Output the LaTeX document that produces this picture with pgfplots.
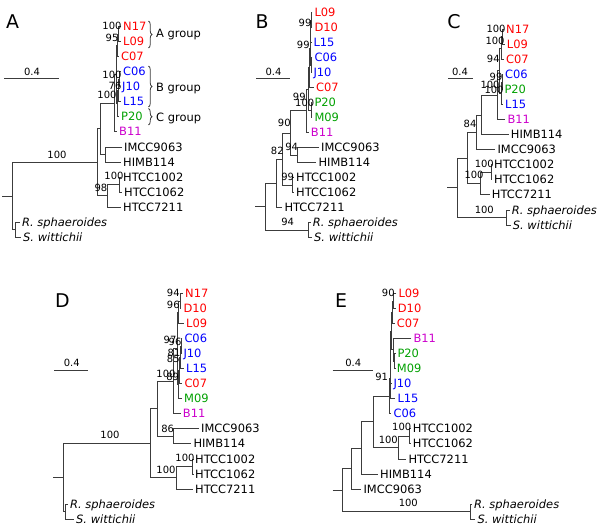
\documentclass[border=0pt]{standalone}
\usepackage{fontspec}
\setmainfont{DejaVu Sans}[ItalicFont={DejaVu Sans Oblique}]
\usepackage{pgfplots}
\pgfplotsset{compat=1.18}
\usetikzlibrary{decorations.pathreplacing}
\definecolor{tred}{RGB}{255,0,0}
\definecolor{tblue}{RGB}{0,0,255}
\definecolor{tgreen}{RGB}{0,160,0}
\definecolor{tmag}{RGB}{204,0,204}
\definecolor{tline}{RGB}{60,60,60}
\newcommand{\tipfont}{\fontsize{11.5}{13}\selectfont}
\newcommand{\supfont}{\fontsize{10}{12}\selectfont}
\newcommand{\letfont}{\fontsize{19}{22}\selectfont}
\newcommand{\tip}[4][black]{\node[anchor=west,inner sep=0pt,text=#1,font=\tipfont,text height=8.4pt,text depth=0pt] at (axis cs:#2,#3) {#4};}
\newcommand{\bs}[3]{\node[inner sep=0pt,font=\supfont,text height=7.3pt,text depth=0pt] at (axis cs:#1,#2) {#3};}
\newcommand{\plet}[3]{\node[inner sep=0pt,font=\letfont,text height=13.9pt,text depth=0pt] at (axis cs:#1,#2) {#3};}
\pgfplotsset{tree/.style={color=tline, line width=0.8bp, mark=none, forget plot}}
\begin{document}
\begin{tikzpicture}
\begin{axis}[scale only axis, width=600bp, height=529bp, xmin=0, xmax=600, ymin=0, ymax=529, y dir=reverse, hide axis, clip=false, unbounded coords=jump]
\addplot[draw=none, forget plot] coordinates {(0,0) (600,529)};
% ---------------- Panel A ----------------
\addplot[tree] coordinates {
(121,26.5) (118.5,26.5) (118.5,41.5) (121,41.5) (nan,nan)
(118.5,34) (117.5,34) (117.5,56.6) (119,56.6) (nan,nan)
(121,71.6) (119,71.6) (119,86.7) (120,86.7) (nan,nan)
(119,79.2) (118,79.2) (118,101.7) (121,101.7) (nan,nan)
(118,90.4) (117,90.4) (117,116.8) (119,116.8) (nan,nan)
(117.5,45.3) (116,45.3) (116,103.6) (117,103.6) (nan,nan)
(116,74.5) (114.5,74.5) (114.5,131.8) (117,131.8) (nan,nan)
(122,146.9) (105,146.9) (105,162) (121,162) (nan,nan)
(114.5,103.1) (100,103.1) (100,154.5) (105,154.5) (nan,nan)
(121,177) (119,177) (119,192) (122,192) (nan,nan)
(119,184.5) (107,184.5) (107,207.1) (121,207.1) (nan,nan)
(100,128.8) (97,128.8) (97,195.8) (107,195.8) (nan,nan)
(20,222.1) (15,222.1) (15,237.2) (21,237.2) (nan,nan)
(97,162.3) (12,162.3) (12,229.7) (15,229.7) (nan,nan)
(2,196) (12,196) (nan,nan)
(4,78) (59,78)
};
\plet{12.5}{21.5}{A}
\bs{32}{71.5}{0.4}
\tip[tred]{123}{26.5}{N17}
\tip[tred]{123}{41.5}{L09}
\tip[tred]{121}{56.6}{C07}
\tip[tblue]{123}{71.6}{C06}
\tip[tblue]{122}{86.7}{J10}
\tip[tblue]{123}{101.7}{L15}
\tip[tgreen]{121}{116.8}{P20}
\tip[tmag]{119}{131.8}{B11}
\tip{124}{146.9}{IMCC9063}
\tip{123}{162}{HIMB114}
\tip{123}{177}{HTCC1002}
\tip{124}{192}{HTCC1062}
\tip{123}{207.1}{HTCC7211}
\tip{22}{222.1}{\itshape R. sphaeroides}
\tip{23}{237.2}{\itshape S. wittichii}
\bs{112}{26}{100}
\bs{112}{38}{95}
\bs{112}{75}{100}
\bs{115}{86}{76}
\bs{107}{95}{100}
\bs{57}{155}{100}
\bs{114}{176}{100}
\bs{101}{188}{98}
\draw[tline, line width=0.8bp, decorate, decoration={brace, amplitude=3.5bp}] (axis cs:148.5,21) -- (axis cs:148.5,48);
\draw[tline, line width=0.8bp, decorate, decoration={brace, amplitude=3.5bp}] (axis cs:148.5,66) -- (axis cs:148.5,107);
\draw[tline, line width=0.8bp, decorate, decoration={brace, amplitude=3.5bp}] (axis cs:148.5,108.5) -- (axis cs:148.5,125);
\tip{156}{33.5}{A group}
\tip{156}{87}{B group}
\tip{156}{117}{C group}
% ---------------- Panel B ----------------
\addplot[tree] coordinates {
(312.3,12.5) (311,12.5) (311,27.5) (312.3,27.5) (nan,nan)
(311,20) (310.5,20) (310.5,42.5) (311.3,42.5) (nan,nan)
(312.3,57.5) (311,57.5) (311,72.5) (311.3,72.5) (nan,nan)
(310.5,31.25) (310,31.25) (310,65) (311,65) (nan,nan)
(310,48.1) (309.5,48.1) (309.5,87.5) (314,87.5) (nan,nan)
(312.3,102.5) (311,102.5) (311,117.5) (312.3,117.5) (nan,nan)
(309.5,67.8) (308.5,67.8) (308.5,110) (311,110) (nan,nan)
(308.5,88.9) (306,88.9) (306,132.5) (308.7,132.5) (nan,nan)
(319,147.5) (297.3,147.5) (297.3,162.5) (316.3,162.5) (nan,nan)
(306,110.7) (290,110.7) (290,155) (297.3,155) (nan,nan)
(294,177.5) (292.7,177.5) (292.7,192.5) (294,192.5) (nan,nan)
(290,132.9) (282,132.9) (282,185) (292.7,185) (nan,nan)
(282,159) (276,159) (276,207.5) (282.3,207.5) (nan,nan)
(310.7,222.5) (308.3,222.5) (308.3,237.5) (312,237.5) (nan,nan)
(276,183.2) (265,183.2) (265,230) (308.3,230) (nan,nan)
(255,206.6) (265,206.6) (nan,nan)
(256,78) (290,78)
};
\plet{262}{21.5}{B}
\bs{273.5}{71.5}{0.4}
\tip[tred]{314.3}{12.5}{L09}
\tip[tred]{314.3}{27.5}{D10}
\tip[tblue]{313.3}{42.5}{L15}
\tip[tblue]{314.3}{57.5}{C06}
\tip[tblue]{313.3}{72.5}{J10}
\tip[tred]{316}{87.5}{C07}
\tip[tgreen]{314.3}{102.5}{P20}
\tip[tgreen]{314.3}{117.5}{M09}
\tip[tmag]{310.7}{132.5}{B11}
\tip{321}{147.5}{IMCC9063}
\tip{318.3}{162.5}{HIMB114}
\tip{296}{177.5}{HTCC1002}
\tip{296}{192.5}{HTCC1062}
\tip{284.3}{207.5}{HTCC7211}
\tip{312.7}{222.5}{\itshape R. sphaeroides}
\tip{314}{237.5}{\itshape S. wittichii}
\bs{305}{23.3}{99}
\bs{303.3}{45}{99}
\bs{299.3}{97.3}{99}
\bs{304.7}{103.3}{100}
\bs{284.3}{123.3}{90}
\bs{291.7}{146.7}{94}
\bs{277.3}{150.7}{82}
\bs{287.7}{177.3}{99}
\bs{287.7}{222.3}{94}
% ---------------- Panel C ----------------
\addplot[tree] coordinates {
(504,29.3) (502,29.3) (502,44.3) (504.7,44.3) (nan,nan)
(502,36.8) (501,36.8) (501,59.4) (504,59.4) (nan,nan)
(503,74.4) (502,74.4) (502,89.5) (502.3,89.5) (nan,nan)
(502,82) (501,82) (501,104.5) (503,104.5) (nan,nan)
(501,48.1) (499.5,48.1) (499.5,93.2) (501,93.2) (nan,nan)
(499.5,70.7) (497,70.7) (497,119.6) (505.3,119.6) (nan,nan)
(497,95.1) (481,95.1) (481,134.6) (508.7,134.6) (nan,nan)
(481,114.9) (476,114.9) (476,149.7) (495.3,149.7) (nan,nan)
(492,164.7) (491,164.7) (491,179.8) (492,179.8) (nan,nan)
(491,172.2) (480.7,172.2) (480.7,194.8) (489.7,194.8) (nan,nan)
(476,132.3) (467.3,132.3) (467.3,183.5) (480.7,183.5) (nan,nan)
(509.7,209.9) (506,209.9) (506,224.9) (510.7,224.9) (nan,nan)
(467.3,157.9) (457.7,157.9) (457.7,217.4) (506,217.4) (nan,nan)
(447,187.6) (457.7,187.6) (nan,nan)
(448.3,78.3) (473.3,78.3)
};
\plet{454}{21.5}{C}
\bs{460}{71.5}{0.4}
\tip[tred]{506}{29.3}{N17}
\tip[tred]{506.7}{44.3}{L09}
\tip[tred]{506}{59.4}{C07}
\tip[tblue]{505}{74.4}{C06}
\tip[tgreen]{504.3}{89.5}{P20}
\tip[tblue]{505}{104.5}{L15}
\tip[tmag]{507.3}{119.6}{B11}
\tip{510.7}{134.6}{HIMB114}
\tip{497.3}{149.7}{IMCC9063}
\tip{494}{164.7}{HTCC1002}
\tip{494}{179.8}{HTCC1062}
\tip{491.7}{194.8}{HTCC7211}
\tip{511.7}{209.9}{\itshape R. sphaeroides}
\tip{512.7}{224.9}{\itshape S. wittichii}
\bs{496}{29.3}{100}
\bs{495}{40.7}{100}
\bs{493.3}{59.3}{94}
\bs{496}{76.7}{99}
\bs{490}{85}{100}
\bs{494}{90}{100}
\bs{470}{124}{84}
\bs{484.3}{164.3}{100}
\bs{474}{175}{100}
\bs{484.3}{210}{100}
% ---------------- Panel D ----------------
\addplot[tree] coordinates {
(183,293.3) (180,293.3) (180,308.4) (181.3,308.4) (nan,nan)
(180,300.9) (178.5,300.9) (178.5,323.4) (184,323.4) (nan,nan)
(182.3,338.5) (181,338.5) (181,353.5) (181.3,353.5) (nan,nan)
(181,346) (180.5,346) (180.5,368.6) (184,368.6) (nan,nan)
(180.5,357.3) (179.5,357.3) (179.5,383.6) (182.3,383.6) (nan,nan)
(179.5,370.5) (178.5,370.5) (178.5,398.7) (182,398.7) (nan,nan)
(178.5,312.1) (177,312.1) (177,384.6) (178.5,384.6) (nan,nan)
(177,348.3) (173.3,348.3) (173.3,413.7) (180.7,413.7) (nan,nan)
(199,428.8) (173.3,428.8) (173.3,443.8) (191.3,443.8) (nan,nan)
(173.3,381) (157.3,381) (157.3,436.3) (173.3,436.3) (nan,nan)
(193,458.9) (192.7,458.9) (192.7,473.9) (193,473.9) (nan,nan)
(192.7,466.4) (176.7,466.4) (176.7,489) (193,489) (nan,nan)
(157.3,408.7) (150.7,408.7) (150.7,477.7) (176.7,477.7) (nan,nan)
(68,504) (65.7,504) (65.7,519.1) (74,519.1) (nan,nan)
(150.7,443.2) (63.3,443.2) (63.3,511.6) (65.7,511.6) (nan,nan)
(53.3,477.4) (63.3,477.4) (nan,nan)
(54.3,370) (88.3,370)
};
\plet{62.5}{301}{D}
\bs{71.7}{363.3}{0.4}
\tip[tred]{185}{293.3}{N17}
\tip[tred]{183.3}{308.4}{D10}
\tip[tred]{186}{323.4}{L09}
\tip[tblue]{184.3}{338.5}{C06}
\tip[tblue]{183.3}{353.5}{J10}
\tip[tblue]{186}{368.6}{L15}
\tip[tred]{184.3}{383.6}{C07}
\tip[tgreen]{184}{398.7}{M09}
\tip[tmag]{182.7}{413.7}{B11}
\tip{201}{428.8}{IMCC9063}
\tip{193.3}{443.8}{HIMB114}
\tip{195}{458.9}{HTCC1002}
\tip{195}{473.9}{HTCC1062}
\tip{195}{489}{HTCC7211}
\tip{70}{504}{\itshape R. sphaeroides}
\tip{76}{519.1}{\itshape S. wittichii}
\bs{173.3}{293.3}{94}
\bs{173.3}{305}{96}
\bs{170}{340}{97}
\bs{175}{341.7}{96}
\bs{174}{352.7}{81}
\bs{173.3}{359.3}{85}
\bs{166}{374}{100}
\bs{172.7}{376.7}{89}
\bs{110}{435}{100}
\bs{167.7}{429}{86}
\bs{185}{458.3}{100}
\bs{166}{470}{100}
% ---------------- Panel E ----------------
\addplot[tree] coordinates {
(396.3,293.3) (393.5,293.3) (393.5,308.4) (395.7,308.4) (nan,nan)
(393.5,300.9) (392,300.9) (392,323.4) (394.7,323.4) (nan,nan)
(395.3,353.5) (394.5,353.5) (394.5,368.6) (394.7,368.6) (nan,nan)
(411.3,338.5) (393.5,338.5) (393.5,361) (394.5,361) (nan,nan)
(392,312.1) (391.3,312.1) (391.3,349.8) (393.5,349.8) (nan,nan)
(391.3,331) (390.7,331) (390.7,383.6) (391.3,383.6) (nan,nan)
(390.7,357.3) (390,357.3) (390,398.7) (395.3,398.7) (nan,nan)
(390,378) (389.3,378) (389.3,413.7) (391.3,413.7) (nan,nan)
(410.7,428.8) (409.3,428.8) (409.3,443.8) (410.7,443.8) (nan,nan)
(409.3,436.3) (398.3,436.3) (398.3,458.9) (406.3,458.9) (nan,nan)
(389.3,395.9) (373.3,395.9) (373.3,447.6) (398.3,447.6) (nan,nan)
(373.3,421.8) (361.7,421.8) (361.7,473.9) (378,473.9) (nan,nan)
(361.7,447.9) (351.7,447.9) (351.7,489) (361.3,489) (nan,nan)
(472,504) (470,504) (470,519.1) (475.3,519.1) (nan,nan)
(351.7,468.4) (342.7,468.4) (342.7,511.6) (470,511.6) (nan,nan)
(332.7,490) (342.7,490) (nan,nan)
(332.7,370) (372.7,370)
};
\plet{341}{301}{E}
\bs{353.3}{363.3}{0.4}
\tip[tred]{398.3}{293.3}{L09}
\tip[tred]{397.7}{308.4}{D10}
\tip[tred]{396.7}{323.4}{C07}
\tip[tmag]{413.3}{338.5}{B11}
\tip[tgreen]{397.3}{353.5}{P20}
\tip[tgreen]{396.7}{368.6}{M09}
\tip[tblue]{393.3}{383.6}{J10}
\tip[tblue]{397.3}{398.7}{L15}
\tip[tblue]{393.3}{413.7}{C06}
\tip{412.7}{428.8}{HTCC1002}
\tip{412.7}{443.8}{HTCC1062}
\tip{408.3}{458.9}{HTCC7211}
\tip{380}{473.9}{HIMB114}
\tip{363.3}{489}{IMCC9063}
\tip{474}{504}{\itshape R. sphaeroides}
\tip{477.3}{519.1}{\itshape S. wittichii}
\bs{388.3}{293.3}{90}
\bs{381.7}{377.3}{91}
\bs{401.7}{427.3}{100}
\bs{388.3}{440}{100}
\bs{408.3}{503.3}{100}
\end{axis}
\path (current axis.south west) rectangle (current axis.north east);
\end{tikzpicture}
\end{document}
